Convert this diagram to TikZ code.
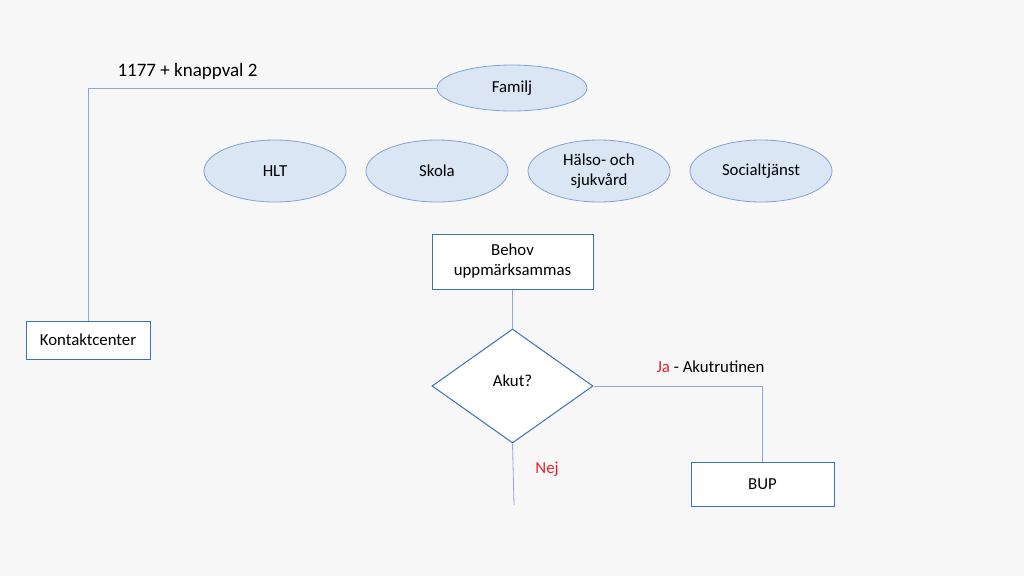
\documentclass[tikz,border=0pt]{standalone}
\usepackage{fontspec}
\setmainfont{Carlito}
\usetikzlibrary{shapes.geometric}
\definecolor{bg}{HTML}{F7F7F8}
\definecolor{ellfill}{HTML}{DAE6F4}
\definecolor{elldraw}{HTML}{7FA3D2}
\definecolor{boxdraw}{HTML}{3A73B6}
\definecolor{linkcol}{HTML}{8EA9D8}
\definecolor{nejred}{HTML}{E8202A}
\tikzstyle{actor} = [draw=elldraw, fill=ellfill, ellipse, line width=0.8pt,
  minimum width=142pt, minimum height=62pt, inner sep=0pt, align=center]
\tikzstyle{stepbox} = [draw=boxdraw, fill=white, line width=1pt,
  inner sep=2pt, align=center]
\tikzstyle{decide} = [draw=boxdraw, fill=white, diamond, line width=1pt,
  minimum width=161pt, minimum height=114pt, inner sep=0pt]
\tikzstyle{link} = [draw=linkcol, line width=0.8pt]

\begin{document}
\begin{tikzpicture}[x=1pt, y=-1pt, every node/.style={font=\fontsize{16.8}{20}\selectfont}]
    \useasboundingbox[fill=bg] (0,0) rectangle (1024,576);
    % källor
    \node[actor,minimum width=150pt,minimum height=46pt] (familj) at (512,88) {Familj};
    \node[actor] (hlt) at (275,171) {HLT};
    \node[actor] (skola) at (437,171) {Skola};
    \node[actor] (halso) at (599,171) {Hälso- och\\sjukvård};
    \node[actor] (soc) at (761,171) {Socialtjänst};
    % flöde
    \node[stepbox,minimum width=161pt,minimum height=55pt] (behov) at (512.5,261.5)
        {Behov\\uppmärksammas};
    \node[stepbox,minimum width=124pt,minimum height=38pt] (kontakt) at (88,340)
        {Kontaktcenter};
    \node[decide] (akut) at (512.5,386) {};
    \node (akuttext) at (512.5,381) {Akut?};
    \node[stepbox,minimum width=143pt,minimum height=44pt] (bup) at (762.5,484) {BUP};
    \coordinate (nejslut) at (514,505);
    % kopplingar
    \draw[link] (familj.west) -| (kontakt.north);
    \draw[link] (behov.south) -- (akut.north);
    \draw[link] (akut.east) -| (bup.north);
    \draw[link] (akut.south) -- (nejslut);
    % etiketter
    \node[font=\fontsize{19}{23}\selectfont] (knapp) at (187.5,71) {1177 + knappval 2};
    \node (ja) at (710.5,367) {\textcolor{nejred}{Ja} - Akutrutinen};
    \node[text=nejred] (nej) at (547,469) {Nej};
\end{tikzpicture}
\end{document}
